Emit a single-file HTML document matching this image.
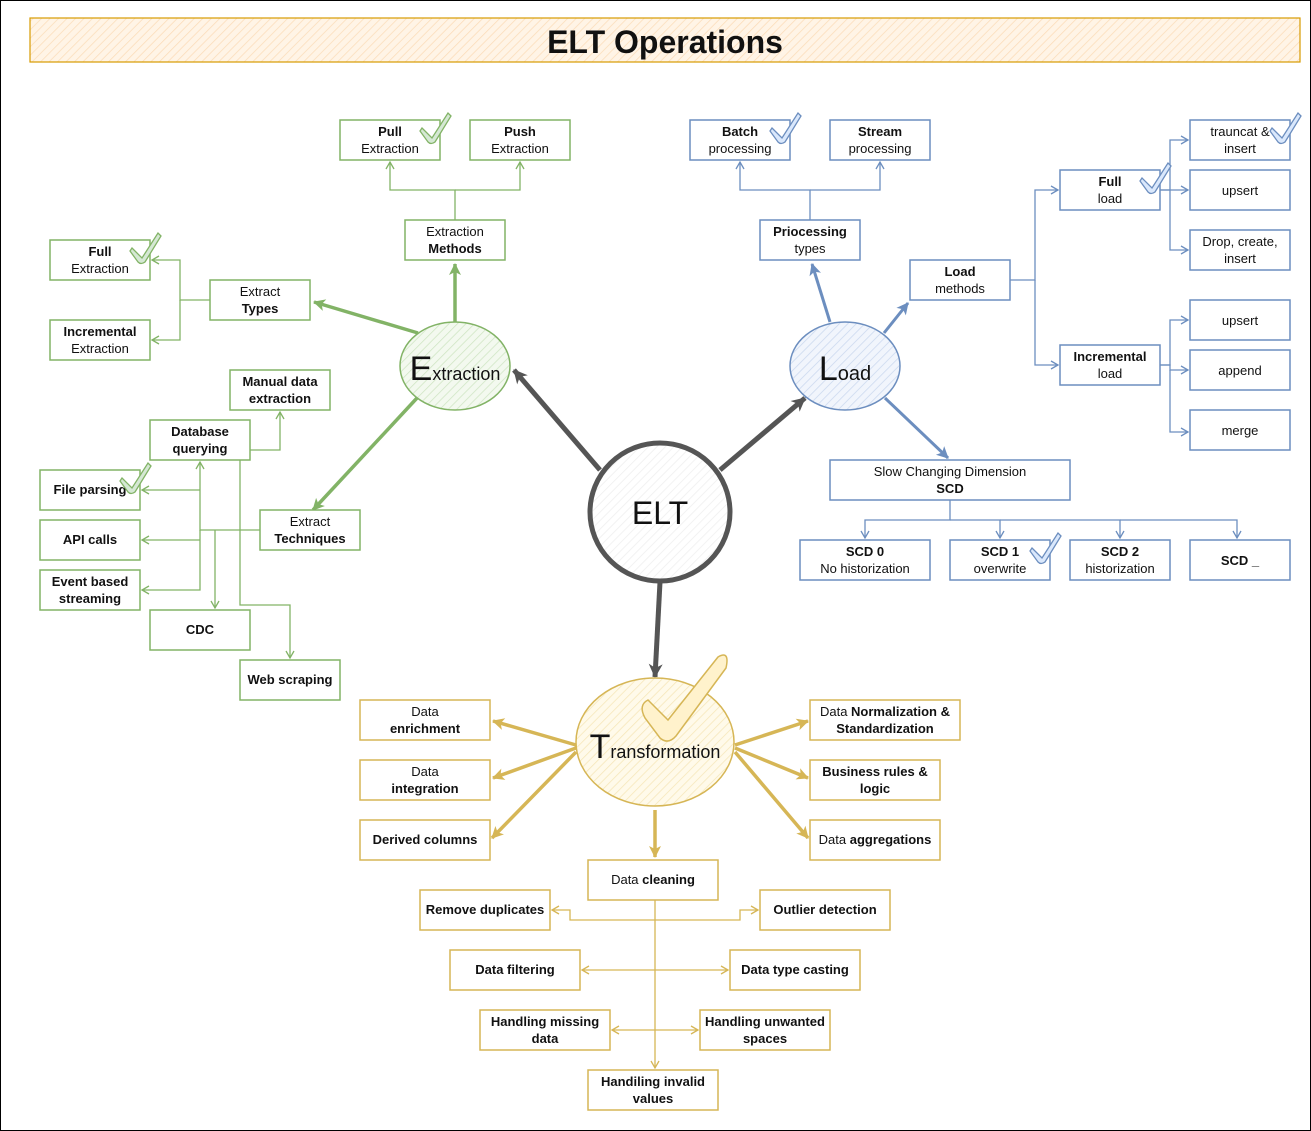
<!DOCTYPE html>
<html><head><meta charset="utf-8"><style>
html,body{margin:0;padding:0;background:#fff}
svg{display:block}
text{font-family:"Liberation Sans",sans-serif;font-size:13px;fill:#111;text-anchor:middle}
.b{font-weight:bold}
.g rect{fill:#fff;stroke:#82b366;stroke-width:1.5}
.bl rect{fill:#fff;stroke:#6c8ebf;stroke-width:1.5}
.y rect{fill:#fff;stroke:#d6b656;stroke-width:1.5}
</style></head><body>
<svg width="1311" height="1131" viewBox="0 0 1311 1131" xmlns="http://www.w3.org/2000/svg">
<defs>
<marker id="ag" markerWidth="10" markerHeight="10" refX="8" refY="5" orient="auto" markerUnits="userSpaceOnUse"><path d="M1,1 L8,5 L1,9" fill="none" stroke="#82b366" stroke-width="1.3"/></marker>
<marker id="ab" markerWidth="10" markerHeight="10" refX="8" refY="5" orient="auto" markerUnits="userSpaceOnUse"><path d="M1,1 L8,5 L1,9" fill="none" stroke="#6c8ebf" stroke-width="1.3"/></marker>
<marker id="ay" markerWidth="10" markerHeight="10" refX="8" refY="5" orient="auto" markerUnits="userSpaceOnUse"><path d="M1,1 L8,5 L1,9" fill="none" stroke="#d6b656" stroke-width="1.3"/></marker>
<marker id="Ag" markerWidth="16" markerHeight="16" refX="12" refY="8" orient="auto" markerUnits="userSpaceOnUse"><path d="M1,2 L13,8 L1,14 L4,8z" fill="#82b366"/></marker>
<marker id="Ab" markerWidth="16" markerHeight="16" refX="12" refY="8" orient="auto" markerUnits="userSpaceOnUse"><path d="M1,2 L13,8 L1,14 L4,8z" fill="#6c8ebf"/></marker>
<marker id="Ay" markerWidth="16" markerHeight="16" refX="12" refY="8" orient="auto" markerUnits="userSpaceOnUse"><path d="M1,2 L13,8 L1,14 L4,8z" fill="#d6b656"/></marker>
<marker id="Ad" markerWidth="18" markerHeight="18" refX="14" refY="9" orient="auto" markerUnits="userSpaceOnUse"><path d="M1,2 L15,9 L1,16 L5,9z" fill="#555"/></marker>
<pattern id="hg" width="6" height="6" patternUnits="userSpaceOnUse" patternTransform="rotate(45)"><rect width="6" height="6" fill="#f3f9ef"/><line x1="0" y1="0" x2="0" y2="6" stroke="#cfe5c3" stroke-width="1.5"/></pattern>
<pattern id="hb" width="6" height="6" patternUnits="userSpaceOnUse" patternTransform="rotate(45)"><rect width="6" height="6" fill="#f1f5fc"/><line x1="0" y1="0" x2="0" y2="6" stroke="#c9d7ee" stroke-width="1.5"/></pattern>
<pattern id="hy" width="6" height="6" patternUnits="userSpaceOnUse" patternTransform="rotate(45)"><rect width="6" height="6" fill="#fffaea"/><line x1="0" y1="0" x2="0" y2="6" stroke="#f6e6b8" stroke-width="1.5"/></pattern>
<pattern id="ho" width="6" height="6" patternUnits="userSpaceOnUse" patternTransform="rotate(45)"><rect width="6" height="6" fill="#fff4e6"/><line x1="0" y1="0" x2="0" y2="6" stroke="#fbdcb8" stroke-width="1.5"/></pattern>
<pattern id="hw" width="6" height="6" patternUnits="userSpaceOnUse" patternTransform="rotate(45)"><rect width="6" height="6" fill="#fff"/><line x1="0" y1="0" x2="0" y2="6" stroke="#eee" stroke-width="1.5"/></pattern>
</defs>
<rect x="0.5" y="0.5" width="1310" height="1130" fill="#fff" stroke="#000"/>
<rect x="30" y="18" width="1270" height="44" fill="url(#ho)" stroke="#d79b00" stroke-width="1.2"/>
<text x="665" y="53" style="font-size:32px;font-weight:bold">ELT Operations</text>

<!-- Green connectors -->
<g fill="none" stroke="#82b366" stroke-width="1.3">
<path d="M455,220 V190 H390 V162" marker-end="url(#ag)"/>
<path d="M455,190 H520 V162" marker-end="url(#ag)"/>
<path d="M210,300 H180 V260 H152" marker-end="url(#ag)"/>
<path d="M180,300 V340 H152" marker-end="url(#ag)"/>
<path d="M260,530 H200 V462" marker-end="url(#ag)"/>
<path d="M240,530 V450 H280 V412" marker-end="url(#ag)"/>
<path d="M200,490 H142" marker-end="url(#ag)"/>
<path d="M200,540 H142" marker-end="url(#ag)"/>
<path d="M200,530 V590 H142" marker-end="url(#ag)"/>
<path d="M215,530 V608" marker-end="url(#ag)"/>
<path d="M240,530 V605 H290 V658" marker-end="url(#ag)"/>
</g>
<g fill="none" stroke="#82b366" stroke-width="3.5">
<path d="M455,322 V264" marker-end="url(#Ag)"/>
<path d="M418,333 L314,302" marker-end="url(#Ag)"/>
<path d="M417,398 L313,510" marker-end="url(#Ag)"/>
</g>

<!-- Blue connectors -->
<g fill="none" stroke="#6c8ebf" stroke-width="1.3">
<path d="M810,220 V190 H740 V162" marker-end="url(#ab)"/>
<path d="M810,190 H880 V162" marker-end="url(#ab)"/>
<path d="M1010,280 H1035 V190 H1058" marker-end="url(#ab)"/>
<path d="M1035,280 V365 H1058" marker-end="url(#ab)"/>
<path d="M1160,190 H1170 V140 H1188" marker-end="url(#ab)"/>
<path d="M1160,190 H1188" marker-end="url(#ab)"/>
<path d="M1170,190 V250 H1188" marker-end="url(#ab)"/>
<path d="M1160,365 H1170 V320 H1188" marker-end="url(#ab)"/>
<path d="M1160,365 H1170 V370 H1188" marker-end="url(#ab)"/>
<path d="M1170,370 V432 H1188" marker-end="url(#ab)"/>
<path d="M950,500 V520 H865 V538" marker-end="url(#ab)"/>
<path d="M950,520 H1000 V538" marker-end="url(#ab)"/>
<path d="M1000,520 H1120 V538" marker-end="url(#ab)"/>
<path d="M1120,520 H1237 V538" marker-end="url(#ab)"/>
</g>
<g fill="none" stroke="#6c8ebf" stroke-width="3">
<path d="M830,322 L812,264" marker-end="url(#Ab)"/>
<path d="M884,333 L908,303" marker-end="url(#Ab)"/>
<path d="M885,398 L948,458" marker-end="url(#Ab)"/>
</g>

<!-- Gray connectors -->
<g fill="none" stroke="#555" stroke-width="5">
<path d="M600,470 L514,370" marker-end="url(#Ad)"/>
<path d="M720,470 L805,398" marker-end="url(#Ad)"/>
<path d="M660,582 L655,677" marker-end="url(#Ad)"/>
</g>

<!-- Yellow connectors -->
<g fill="none" stroke="#d6b656" stroke-width="3.5">
<path d="M576,745 L493,721" marker-end="url(#Ay)"/>
<path d="M576,748 L493,778" marker-end="url(#Ay)"/>
<path d="M576,752 L492,838" marker-end="url(#Ay)"/>
<path d="M735,745 L808,721" marker-end="url(#Ay)"/>
<path d="M735,748 L808,778" marker-end="url(#Ay)"/>
<path d="M735,752 L808,838" marker-end="url(#Ay)"/>
<path d="M655,810 V857" marker-end="url(#Ay)"/>
</g>
<g fill="none" stroke="#d6b656" stroke-width="1.3">
<path d="M655,900 V1068" marker-end="url(#ay)"/>
<path d="M655,920 H570 V910 H552" marker-end="url(#ay)"/>
<path d="M655,920 H740 V910 H758" marker-end="url(#ay)"/>
<path d="M655,970 H582" marker-end="url(#ay)"/>
<path d="M655,970 H728" marker-end="url(#ay)"/>
<path d="M655,1030 H612" marker-end="url(#ay)"/>
<path d="M655,1030 H698" marker-end="url(#ay)"/>
</g>

<!-- Circles -->
<ellipse cx="455" cy="366" rx="55" ry="44" fill="url(#hg)" stroke="#82b366" stroke-width="1.5"/>
<text x="455" y="380" style="font-size:18px"><tspan style="font-size:34px">E</tspan>xtraction</text>
<ellipse cx="845" cy="366" rx="55" ry="44" fill="url(#hb)" stroke="#6c8ebf" stroke-width="1.5"/>
<text x="845" y="380" style="font-size:20px"><tspan style="font-size:34px">L</tspan>oad</text>
<ellipse cx="660" cy="512" rx="70" ry="69" fill="url(#hw)" stroke="#555" stroke-width="5"/>
<text x="660" y="524" style="font-size:32px">ELT</text>
<ellipse cx="655" cy="742" rx="79" ry="64" fill="url(#hy)" stroke="#d6b656" stroke-width="1.5"/>
<path d="M648,700 L668,720 L718,657 Q730,650 726,668 L676,736 Q668,745 660,738 L645,718 Q638,705 648,700z" fill="#fff2cc" stroke="#d6b656" stroke-width="1.5"/>
<text x="655" y="758" style="font-size:18px"><tspan style="font-size:34px">T</tspan>ransformation</text>

<!-- Green boxes -->
<g class="g">
<rect x="340" y="120" width="100" height="40"/><text x="390" y="136" class="b">Pull</text><text x="390" y="153">Extraction</text>
<rect x="470" y="120" width="100" height="40"/><text x="520" y="136" class="b">Push</text><text x="520" y="153">Extraction</text>
<rect x="405" y="220" width="100" height="40"/><text x="455" y="236">Extraction</text><text x="455" y="253" class="b">Methods</text>
<rect x="210" y="280" width="100" height="40"/><text x="260" y="296">Extract</text><text x="260" y="313" class="b">Types</text>
<rect x="50" y="240" width="100" height="40"/><text x="100" y="256" class="b">Full</text><text x="100" y="273">Extraction</text>
<rect x="50" y="320" width="100" height="40"/><text x="100" y="336" class="b">Incremental</text><text x="100" y="353">Extraction</text>
<rect x="230" y="370" width="100" height="40"/><text x="280" y="386" class="b">Manual data</text><text x="280" y="403" class="b">extraction</text>
<rect x="150" y="420" width="100" height="40"/><text x="200" y="436" class="b">Database</text><text x="200" y="453" class="b">querying</text>
<rect x="40" y="470" width="100" height="40"/><text x="90" y="494" class="b">File parsing</text>
<rect x="40" y="520" width="100" height="40"/><text x="90" y="544" class="b">API calls</text>
<rect x="40" y="570" width="100" height="40"/><text x="90" y="586" class="b">Event based</text><text x="90" y="603" class="b">streaming</text>
<rect x="150" y="610" width="100" height="40"/><text x="200" y="634" class="b">CDC</text>
<rect x="240" y="660" width="100" height="40"/><text x="290" y="684" class="b">Web scraping</text>
<rect x="260" y="510" width="100" height="40"/><text x="310" y="526">Extract</text><text x="310" y="543" class="b">Techniques</text>
</g>

<!-- Blue boxes -->
<g class="bl">
<rect x="690" y="120" width="100" height="40"/><text x="740" y="136" class="b">Batch</text><text x="740" y="153">processing</text>
<rect x="830" y="120" width="100" height="40"/><text x="880" y="136" class="b">Stream</text><text x="880" y="153">processing</text>
<rect x="760" y="220" width="100" height="40"/><text x="810" y="236" class="b">Priocessing</text><text x="810" y="253">types</text>
<rect x="910" y="260" width="100" height="40"/><text x="960" y="276" class="b">Load</text><text x="960" y="293">methods</text>
<rect x="1060" y="170" width="100" height="40"/><text x="1110" y="186" class="b">Full</text><text x="1110" y="203">load</text>
<rect x="1060" y="345" width="100" height="40"/><text x="1110" y="361" class="b">Incremental</text><text x="1110" y="378">load</text>
<rect x="1190" y="120" width="100" height="40"/><text x="1240" y="136">trauncat &amp;</text><text x="1240" y="153">insert</text>
<rect x="1190" y="170" width="100" height="40"/><text x="1240" y="195">upsert</text>
<rect x="1190" y="230" width="100" height="40"/><text x="1240" y="246">Drop, create,</text><text x="1240" y="263">insert</text>
<rect x="1190" y="300" width="100" height="40"/><text x="1240" y="325">upsert</text>
<rect x="1190" y="350" width="100" height="40"/><text x="1240" y="375">append</text>
<rect x="1190" y="410" width="100" height="40"/><text x="1240" y="435">merge</text>
<rect x="830" y="460" width="240" height="40"/><text x="950" y="476">Slow Changing Dimension</text><text x="950" y="493" class="b">SCD</text>
<rect x="800" y="540" width="130" height="40"/><text x="865" y="556" class="b">SCD 0</text><text x="865" y="573">No historization</text>
<rect x="950" y="540" width="100" height="40"/><text x="1000" y="556" class="b">SCD 1</text><text x="1000" y="573">overwrite</text>
<rect x="1070" y="540" width="100" height="40"/><text x="1120" y="556" class="b">SCD 2</text><text x="1120" y="573">historization</text>
<rect x="1190" y="540" width="100" height="40"/><text x="1240" y="565" class="b">SCD _</text>
</g>

<!-- Yellow boxes -->
<g class="y">
<rect x="360" y="700" width="130" height="40"/><text x="425" y="716">Data</text><text x="425" y="733" class="b">enrichment</text>
<rect x="360" y="760" width="130" height="40"/><text x="425" y="776">Data</text><text x="425" y="793" class="b">integration</text>
<rect x="360" y="820" width="130" height="40"/><text x="425" y="844" class="b">Derived columns</text>
<rect x="810" y="700" width="150" height="40"/><text x="885" y="716">Data <tspan class="b">Normalization &amp;</tspan></text><text x="885" y="733" class="b">Standardization</text>
<rect x="810" y="760" width="130" height="40"/><text x="875" y="776" class="b">Business rules &amp;</text><text x="875" y="793" class="b">logic</text>
<rect x="810" y="820" width="130" height="40"/><text x="875" y="844">Data <tspan class="b">aggregations</tspan></text>
<rect x="588" y="860" width="130" height="40"/><text x="653" y="884">Data <tspan class="b">cleaning</tspan></text>
<rect x="420" y="890" width="130" height="40"/><text x="485" y="914" class="b">Remove duplicates</text>
<rect x="760" y="890" width="130" height="40"/><text x="825" y="914" class="b">Outlier detection</text>
<rect x="450" y="950" width="130" height="40"/><text x="515" y="974" class="b">Data filtering</text>
<rect x="730" y="950" width="130" height="40"/><text x="795" y="974" class="b">Data type casting</text>
<rect x="480" y="1010" width="130" height="40"/><text x="545" y="1026" class="b">Handling missing</text><text x="545" y="1043" class="b">data</text>
<rect x="700" y="1010" width="130" height="40"/><text x="765" y="1026" class="b">Handling unwanted</text><text x="765" y="1043" class="b">spaces</text>
<rect x="588" y="1070" width="130" height="40"/><text x="653" y="1086" class="b">Handiling invalid</text><text x="653" y="1103" class="b">values</text>
</g>

<!-- check marks -->
<g stroke-width="1.3">
<path d="M422,128 L432,138 L448,113 L451,116 L435,142 Q431,145 428,142 L420,131z" fill="#d5e8d4" stroke="#82b366"/>
<path d="M132,248 L142,258 L158,233 L161,236 L145,262 Q141,265 138,262 L130,251z" fill="#d5e8d4" stroke="#82b366"/>
<path d="M122,478 L132,488 L148,463 L151,466 L135,492 Q131,495 128,492 L120,481z" fill="#d5e8d4" stroke="#82b366"/>
<path d="M772,128 L782,138 L798,113 L801,116 L785,142 Q781,145 778,142 L770,131z" fill="#dae8fc" stroke="#6c8ebf"/>
<path d="M1142,178 L1152,188 L1168,163 L1171,166 L1155,192 Q1151,195 1148,192 L1140,181z" fill="#dae8fc" stroke="#6c8ebf"/>
<path d="M1272,128 L1282,138 L1298,113 L1301,116 L1285,142 Q1281,145 1278,142 L1270,131z" fill="#dae8fc" stroke="#6c8ebf"/>
<path d="M1032,548 L1042,558 L1058,533 L1061,536 L1045,562 Q1041,565 1038,562 L1030,551z" fill="#dae8fc" stroke="#6c8ebf"/>
</g>
</svg>
</body></html>
